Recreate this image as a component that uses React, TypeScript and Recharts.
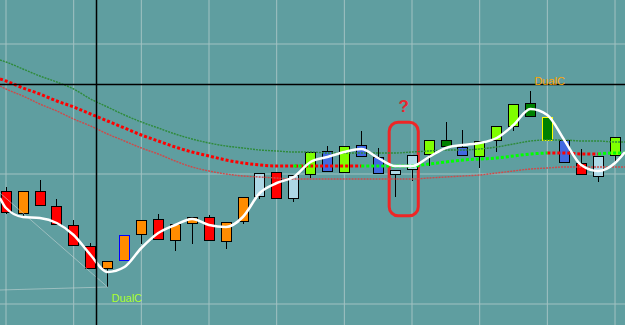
import {
  ComposedChart,
  Bar,
  Line,
  XAxis,
  YAxis,
  CartesianGrid,
  ReferenceLine,
  ReferenceArea,
  ReferenceDot,
} from "recharts";

const WIDTH = 625;
const HEIGHT = 325;

// x = candle index, the window shows a bit more than the first / last candle
const X_LEFT = -0.355;
const X_RIGHT = 36.59;

const R = "#ff0000";
const O = "#ff8c00";
const LB = "#add8e6";
const LM = "#7fff00";
const BL = "#4169e1";
const DG = "#008000";

// candles (price units, 0 = bottom of window)
const candleOpen = [134, 112, 134, 119, 100, 79, 57, 65, 91, 106, 85, 102, 108, 84, 104, 129, 153, 127, 151, 174, 153, 180, 168, 151, 156, 171, 179, 178, 169, 185, 199, 209, 208, 185, 162, 149, 170];
const candleClose = [113, 134, 120, 101, 80, 57, 64, 90, 105, 86, 101, 108, 85, 103, 128, 152, 127, 150, 173, 154, 179, 169, 152, 155, 170, 185, 185, 170, 184, 199, 221, 222, 185, 163, 151, 169, 188];
const candleHigh = [138, 134, 145, 126, 105, 82, 64, 90, 105, 111, 101, 108, 110, 103, 128, 152, 153, 150, 173, 179, 179, 194, 177, 155, 170, 185, 203, 195, 184, 199, 221, 234, 208, 185, 176, 169, 188];
const candleLow = [111, 109, 120, 101, 80, 57, 38, 64, 81, 86, 74, 81, 85, 76, 101, 126, 127, 123, 147, 154, 153, 169, 152, 128, 144, 159, 179, 170, 157, 173, 194, 209, 185, 163, 151, 143, 163];
const candleColor = [R, O, R, R, R, R, O, O, O, R, O, O, R, O, O, LB, R, LB, LM, BL, LM, BL, BL, LB, LB, LM, DG, BL, LM, LM, LM, DG, DG, BL, R, LB, LM];
const candleOutline: Record<number, string> = { 7: "#0000ff", 32: "#ffff00" };

// indicator lines: left edge, one point per candle, right edge
const smoothLine = [127, 117, 108, 107, 102, 90, 70, 53, 58, 77, 92, 100, 106, 100, 98, 108, 132, 142, 148, 163, 168, 173, 176, 167, 159, 159, 168, 177, 180, 182, 187, 200, 216, 210, 185, 160, 154, 162, 173];
const slowGreen = [265, 263, 256, 249, 243, 236, 226, 218, 210, 203, 197, 191, 186, 182, 179, 177, 175, 174, 173, 173, 172, 172, 172, 172, 172, 173, 174, 175, 175, 176, 178, 181, 184, 185, 185, 184, 184, 183, 183];
const signalMa = [246, 244, 237, 231, 224, 218, 211, 204, 197, 190, 184, 178, 173, 169, 165, 162, 160, 159, 159, 159, 159, 159, 159, 159, 159, 159, 161, 163, 165, 166, 167, 169, 171, 172, 172, 171, 171, 172, 172];
const slowRed = [239, 236, 229, 221, 214, 206, 199, 191, 184, 177, 171, 164, 158, 154, 151, 149, 148, 147, 146, 146, 146, 146, 146, 146, 146, 146, 147, 148, 149, 150, 152, 154, 156, 157, 158, 158, 158, 158, 158];
// colour of each signal segment, r = red, g = green
const signalSeg = "rrrrrrrrrrrrrrrrrrgrrrgggggggggggrrrgg".split("");

const gridX = [0, 4, 8, 12, 16, 20, 24, 28, 32, 36];
const gridY = [21, 151, 281];
const crossX = 5.35;
const crossY = 240.5;
const trendDown = [{ x: X_LEFT, y: 132 }, { x: 6, y: 38 }];
const trendFlat = [{ x: X_LEFT, y: 35 }, { x: 6, y: 38 }];
const markBox = { x1: 22.65, x2: 24.37, y1: 109.2, y2: 202.8 };

const lineX = [X_LEFT, ...candleOpen.map((_, i) => i), X_RIGHT];

const data = lineX.map((x, p) => {
  const i = p - 1;
  const hasCandle = i >= 0 && i < candleOpen.length;
  const isRed = signalSeg[p - 1] === "r" || signalSeg[p] === "r";
  const isGreen = signalSeg[p - 1] === "g" || signalSeg[p] === "g";
  return {
    x,
    smooth: smoothLine[p],
    slowGreen: slowGreen[p],
    slowRed: slowRed[p],
    sigRed: isRed ? signalMa[p] : null,
    sigGreen: isGreen ? signalMa[p] : null,
    ...(hasCandle
      ? {
          open: candleOpen[i],
          close: candleClose[i],
          high: candleHigh[i],
          low: candleLow[i],
          color: candleColor[i],
          outline: candleOutline[i] ?? "#000000",
          range: [candleLow[i], candleHigh[i]],
        }
      : {}),
  };
});

const Candle = (props: any) => {
  const { x, y, width, height, payload } = props;
  if (!payload || payload.high == null || !isFinite(y)) return null;
  const cx = Math.round(x + width / 2);
  const ppv = height / (payload.high - payload.low);
  const top = Math.round(y + (payload.high - Math.max(payload.open, payload.close)) * ppv);
  const bot = Math.round(y + (payload.high - Math.min(payload.open, payload.close)) * ppv);
  return (
    <g>
      <line x1={cx + 0.5} x2={cx + 0.5} y1={y} y2={y + height} stroke="#000" strokeWidth={1} />
      <rect
        x={cx - 5 + 0.5}
        y={top + 0.5}
        width={10}
        height={Math.max(bot - top, 2)}
        fill={payload.color}
        stroke={payload.outline}
        strokeWidth={1}
      />
    </g>
  );
};

const labelFont = "'Liberation Sans', Arial, sans-serif";

export default function App() {
  return (
    <div style={{ width: WIDTH, height: HEIGHT, background: "#5f9ea0" }}>
      <style>{`body{margin:0}`}</style>
      <ComposedChart width={WIDTH} height={HEIGHT} data={data} margin={{ top: 0, right: 0, bottom: 0, left: 0 }}>
        <XAxis dataKey="x" type="number" domain={[X_LEFT, X_RIGHT]} ticks={gridX} hide />
        <YAxis type="number" domain={[0, HEIGHT]} ticks={gridY} hide />
        <CartesianGrid stroke="#a2c2c2" strokeWidth={1} verticalValues={gridX} horizontalValues={gridY} />

        <Line dataKey="slowGreen" type="monotone" stroke="#2e8b3a" strokeWidth={1.4} strokeDasharray="2 1" dot={false} activeDot={false} isAnimationActive={false} />
        <Line dataKey="slowRed" type="monotone" stroke="#cf4a4a" strokeWidth={1.4} strokeDasharray="2 1" dot={false} activeDot={false} isAnimationActive={false} />
        <Line dataKey="sigRed" type="monotone" stroke="#ff0000" strokeWidth={3} strokeDasharray="3 2" dot={false} activeDot={false} connectNulls={false} isAnimationActive={false} />
        <Line dataKey="sigGreen" type="monotone" stroke="#00ff00" strokeWidth={3} strokeDasharray="3 2" dot={false} activeDot={false} connectNulls={false} isAnimationActive={false} />

        <ReferenceLine segment={trendDown} stroke="#c4d4d4" strokeOpacity={0.6} strokeWidth={1} />
        <ReferenceLine segment={trendFlat} stroke="#c4d4d4" strokeOpacity={0.6} strokeWidth={1} />

        <Bar dataKey="range" barSize={11} shape={Candle} activeBar={false} isAnimationActive={false} />

        <Line dataKey="smooth" type="monotone" stroke="#ffffff" strokeWidth={2.5} dot={false} activeDot={false} isAnimationActive={false} />

        <ReferenceLine x={crossX} stroke="#000" strokeWidth={1.5} />
        <ReferenceLine y={crossY} stroke="#000" strokeWidth={1.5} />

        <ReferenceDot
          x={6}
          y={candleLow[6]}
          r={0}
          shape={(p: any) => (
            <text x={p.cx + 4} y={p.cy + 15} fill="#adff2f" fontSize={11} fontFamily={labelFont}>
              DualC
            </text>
          )}
        />
        <ReferenceDot
          x={31}
          y={candleHigh[31]}
          r={0}
          shape={(p: any) => (
            <text x={p.cx + 4} y={p.cy - 6} fill="#ffa500" fontSize={11} fontFamily={labelFont}>
              DualC
            </text>
          )}
        />

        <ReferenceArea
          x1={markBox.x1}
          x2={markBox.x2}
          y1={markBox.y1}
          y2={markBox.y2}
          shape={(p: any) => (
            <g>
              <rect x={p.x} y={p.y} width={p.width} height={p.height} rx={9} fill="none" stroke="#ee2626" strokeWidth={3} />
              <text
                x={p.x + p.width / 2}
                y={p.y - 10}
                textAnchor="middle"
                fill="#e8272e"
                fontSize={17}
                fontWeight="bold"
                fontFamily={labelFont}
              >
                ?
              </text>
            </g>
          )}
        />
      </ComposedChart>
    </div>
  );
}
